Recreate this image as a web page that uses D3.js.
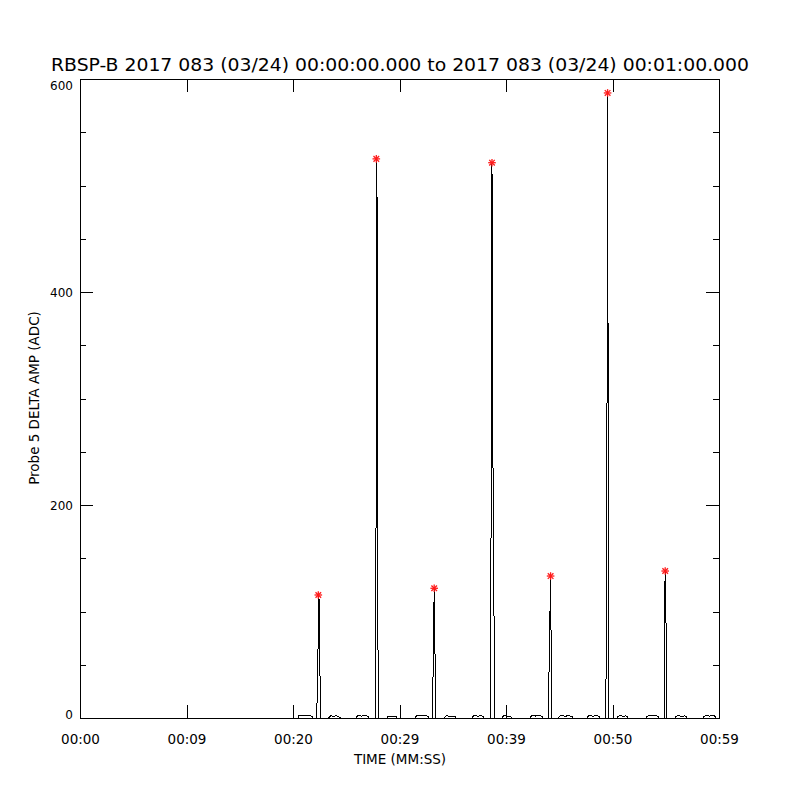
<!DOCTYPE html>
<html>
<head>
<meta charset="utf-8">
<script src="https://cdn.jsdelivr.net/npm/d3@7"></script>
<style>
  html, body { margin: 0; padding: 0; background: #fff; }
  text { font-family: "DejaVu Sans", sans-serif; fill: #000; }
</style>
</head>
<body>
<svg id="chart" width="800" height="800"></svg>
<script>
// ---------------- data ----------------
const titleText = "RBSP-B 2017 083 (03/24) 00:00:00.000 to 2017 083 (03/24) 00:01:00.000";
const xTitle = "TIME (MM:SS)";
const yTitle = "Probe 5 DELTA AMP (ADC)";

// x ticks (seconds) and their printed labels
const xTickValues = [0, 10, 20, 30, 40, 50, 60];
const xTickLabels = ["00:00", "00:09", "00:20", "00:29", "00:39", "00:50", "00:59"];
const yMajorTicks = [0, 200, 400, 600];
const yMinorTicks = [50, 100, 150, 250, 300, 350, 450, 500, 550];

// signal: time (s) and amplitude (ADC)
const sigTime = [
  0,
  20.47, 20.56, 20.66, 20.95, 21.60, 21.84, 21.88,
  22.225, 22.244, 22.347, 22.376, 22.46, 22.517, 22.573,
  23.29, 23.45, 23.55, 23.75, 24.05, 24.30, 24.51,
  25.92, 26.00, 26.15, 26.45, 26.85, 27.05, 27.14,
  27.718, 27.737, 27.812, 27.822, 27.906, 27.962, 27.99,
  28.83, 28.90, 29.10, 29.40, 29.70, 29.77,
  31.46, 31.55, 31.70, 32.00, 32.45, 32.70, 32.77,
  33.08, 33.099, 33.174, 33.258, 33.296, 33.352, 33.408, 33.427,
  34.18, 34.30, 34.45, 34.75, 35.05, 35.25, 35.31,
  36.81, 36.90, 37.05, 37.30, 37.70, 37.88, 37.93,
  38.516, 38.535, 38.62, 38.685, 38.723, 38.779, 38.93, 38.948,
  39.62, 39.70, 39.85, 40.10, 40.40, 40.56,
  42.25, 42.35, 42.50, 42.80, 43.20, 43.40, 43.47,
  43.953, 43.972, 44.038, 44.188, 44.216, 44.244, 44.282, 44.301,
  44.88, 45.00, 45.20, 45.50, 45.90, 46.20, 46.29,
  47.61, 47.70, 47.85, 48.15, 48.55, 48.78, 48.83,
  49.371, 49.39, 49.465, 49.54, 49.568, 49.596, 49.624, 49.643,
  50.42, 50.52, 50.70, 50.95, 51.25, 51.40, 51.46,
  53.15, 53.25, 53.40, 53.70, 54.10, 54.30, 54.37,
  54.845, 54.864, 54.948, 54.986, 55.023, 55.061,
  55.87, 55.97, 56.15, 56.45, 56.80, 56.95, 57.00,
  58.50, 58.60, 58.80, 59.10, 59.50, 59.68, 59.72,
  59.9
];
const sigValue = [
  0,
  0, 2.3, 2.7, 2.1, 2.0, 1.6, 0,
  0, 9, 60, 115.5, 111, 60, 0,
  0, 1.2, 2.4, 1.3, 2.2, 1.0, 0,
  0, 1.5, 2.6, 1.8, 2.3, 1.4, 0,
  0, 31, 218, 525, 480, 218, 0,
  0, 1.6, 1.9, 1.7, 1.5, 0,
  0, 1.4, 2.7, 2.0, 2.2, 1.6, 0,
  0, 9, 55, 121.8, 72, 55, 9, 0,
  0, 1.3, 2.2, 1.5, 1.9, 1.2, 0,
  0, 1.3, 2.6, 1.7, 2.1, 1.4, 0,
  0, 14, 238, 521.4, 276, 238, 14, 0,
  0, 1.5, 2.3, 1.6, 1.8, 0,
  0, 1.5, 2.5, 1.8, 2.3, 1.5, 0,
  0, 15, 43, 133.3, 107, 43, 15, 0,
  0, 1.4, 2.7, 1.6, 2.2, 1.3, 0,
  0, 1.6, 2.5, 1.7, 2.2, 1.5, 0,
  0, 35, 186, 586.9, 473, 186, 35, 0,
  0, 1.5, 2.4, 1.6, 2.0, 1.3, 0,
  0, 1.4, 2.6, 1.9, 2.3, 1.5, 0,
  0, 93, 138, 101, 93, 0,
  0, 1.4, 2.4, 1.6, 2.0, 1.3, 0,
  0, 1.5, 2.6, 1.8, 2.2, 1.5, 0,
  0
];

// detected peaks (red asterisks)
const peakTime  = [22.376, 27.822, 33.258, 38.685, 44.188, 49.54, 54.948];
const peakValue = [115.5, 525, 121.8, 521.4, 133.3, 586.9, 138];

// ---------------- drawing ----------------
const svg = d3.select("#chart");
const L = 80, R = 719, T = 79, B = 718;

const x = d3.scaleLinear().domain([0, 60]).range([L, R]);
const y = d3.scaleLinear().domain([0, 600]).range([B, T]);

svg.append("rect").attr("width", 800).attr("height", 800).attr("fill", "#fff");

// data line
const pts = sigTime.map((t, i) => [t, sigValue[i]]);
svg.append("path")
  .datum(pts)
  .attr("fill", "none")
  .attr("stroke", "#000")
  .attr("stroke-width", 1)
  .attr("shape-rendering", "crispEdges")
  .attr("d", d3.line().x(d => x(d[0])).y(d => y(d[1])));

// axes (ticks pointing inward, labels via tickFormat from the label array)
const majLen = 13, minLen = 6;
const bottomAxis = d3.axisBottom(x).tickValues(xTickValues)
  .tickSize(-majLen).tickPadding(majLen + 10)
  .tickFormat((d, i) => xTickLabels[i]);
const topAxis = d3.axisTop(x).tickValues(xTickValues).tickSize(-majLen).tickFormat("");
const leftMajor = d3.axisLeft(y).tickValues(yMajorTicks).tickSize(-majLen).tickFormat("");
const leftMinor = d3.axisLeft(y).tickValues(yMinorTicks).tickSize(-minLen).tickFormat("");
const rightMajor = d3.axisRight(y).tickValues(yMajorTicks).tickSize(-majLen).tickFormat("");
const rightMinor = d3.axisRight(y).tickValues(yMinorTicks).tickSize(-minLen).tickFormat("");

function styleAxis(g) {
  g.selectAll(".domain").remove();
  g.selectAll("line").attr("stroke", "#000").attr("shape-rendering", "crispEdges");
  g.selectAll("text").attr("font-family", "DejaVu Sans, sans-serif").attr("fill", "#000");
}

svg.append("g").attr("transform", `translate(0,${B})`).call(bottomAxis).call(styleAxis)
  .selectAll("text").attr("font-size", 13.5).attr("dy", "0.2em");
svg.append("g").attr("transform", `translate(0,${T})`).call(topAxis).call(styleAxis);
svg.append("g").attr("transform", `translate(${L},0)`).call(leftMajor).call(styleAxis);
svg.append("g").attr("transform", `translate(${L},0)`).call(leftMinor).call(styleAxis);
svg.append("g").attr("transform", `translate(${R},0)`).call(rightMajor).call(styleAxis);
svg.append("g").attr("transform", `translate(${R},0)`).call(rightMinor).call(styleAxis);

// y tick labels
svg.append("g").selectAll("text").data(yMajorTicks).join("text")
  .attr("x", L - 7)
  .attr("y", d => Math.min(Math.max(y(d) + 4.5, T + 11), B + 1))
  .attr("text-anchor", "end")
  .attr("font-size", 12)
  .text(d => d);

// frame
svg.append("rect")
  .attr("x", L).attr("y", T).attr("width", R - L).attr("height", B - T)
  .attr("fill", "none").attr("stroke", "#000").attr("shape-rendering", "crispEdges");

// peak markers (asterisks)
const star = svg.append("g").selectAll("g")
  .data(peakTime.map((t, i) => [t, peakValue[i]]))
  .join("g")
  .attr("transform", d => `translate(${x(d[0])},${y(d[1])})`)
  .attr("stroke", "#ff1a1a").attr("stroke-width", 1.3);
const r = 3.8, rd = 2.8;
star.append("line").attr("x1", -r).attr("x2", r).attr("y1", 0).attr("y2", 0);
star.append("line").attr("x1", 0).attr("x2", 0).attr("y1", -r).attr("y2", r);
star.append("line").attr("x1", -rd).attr("x2", rd).attr("y1", -rd).attr("y2", rd);
star.append("line").attr("x1", -rd).attr("x2", rd).attr("y1", rd).attr("y2", -rd);

// titles
svg.append("text")
  .attr("x", 400).attr("y", 71)
  .attr("text-anchor", "middle")
  .attr("font-size", 17)
  .attr("textLength", 698).attr("lengthAdjust", "spacingAndGlyphs")
  .text(titleText);

svg.append("text")
  .attr("x", 400).attr("y", 764)
  .attr("text-anchor", "middle")
  .attr("font-size", 13.5)
  .text(xTitle);

svg.append("text")
  .attr("transform", "translate(39,398) rotate(-90)")
  .attr("text-anchor", "middle")
  .attr("font-size", 13.5)
  .text(yTitle);
</script>
</body>
</html>
